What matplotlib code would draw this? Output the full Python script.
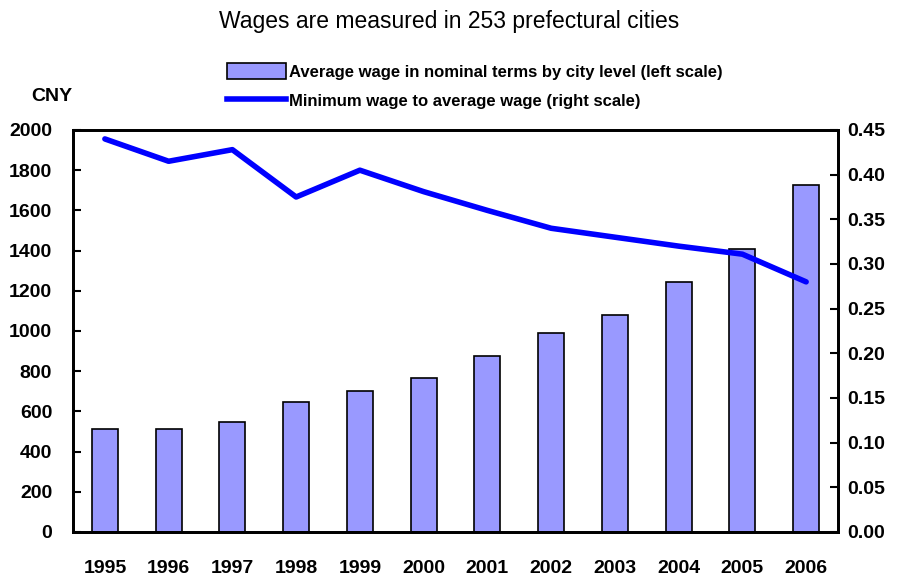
import numpy as np
import matplotlib
matplotlib.use("Agg")
import matplotlib.pyplot as plt
from matplotlib.lines import Line2D
from matplotlib.patches import Patch

years = ["1995", "1996", "1997", "1998", "1999", "2000",
         "2001", "2002", "2003", "2004", "2005", "2006"]
avg_wage = [512, 512, 547, 647, 703, 766, 876, 990, 1081, 1245, 1409, 1726]
min_to_avg = [0.440, 0.415, 0.428, 0.375, 0.405, 0.381,
              0.360, 0.340, 0.330, 0.320, 0.311, 0.280]

bar_color = "#9999ff"
line_color = "#0000ff"
plt.rcParams['font.family'] = ['Liberation Sans', 'DejaVu Sans']

fig = plt.figure(figsize=(8.98, 5.77), dpi=100)
ax = fig.add_axes([0.0813, 0.078, 0.8519, 0.6967])
x = np.arange(len(years))

ax.bar(x, avg_wage, width=0.41, color=bar_color, edgecolor="black", linewidth=1.2, zorder=2)
ax.set_xlim(-0.5, len(years) - 0.5)
ax.set_ylim(0, 2000)
ax.set_yticks(np.arange(0, 2001, 200))
ax.set_xticks(x)
ax.set_xticklabels(years)
ax.tick_params(axis='x', length=0, pad=20, labelsize=14)
ax.tick_params(axis='y', direction='in', length=6, width=1.5, labelsize=14, pad=15)
for lab in ax.get_xticklabels() + ax.get_yticklabels():
    lab.set_fontweight('bold')
for s in ax.spines.values():
    s.set_linewidth(2)

ax2 = ax.twinx()
ax2.plot(x, min_to_avg, color=line_color, linewidth=4, solid_capstyle='round', zorder=3)
ax2.set_ylim(0, 0.45)
ax2.set_yticks(np.arange(0, 0.451, 0.05))
ax2.set_yticklabels([f"{v:.2f}" for v in np.arange(0, 0.451, 0.05)])
ax2.tick_params(axis='y', direction='in', length=6, width=1.5, labelsize=14, pad=7)
for lab in ax2.get_yticklabels():
    lab.set_fontweight('bold')
for s in ax2.spines.values():
    s.set_linewidth(2)

fig.text(0.5, 0.962, "Wages are measured in 253 prefectural cities",
         ha='center', va='center', fontsize=16.5)
fig.text(0.058, 0.832, "CNY", ha='center', va='center', fontsize=14, fontweight='bold')

handles = [Patch(facecolor=bar_color, edgecolor="black", linewidth=1.2),
           Line2D([0], [0], color=line_color, linewidth=4)]
labels = ["Average wage in nominal terms by city level (left scale)",
          "Minimum wage to average wage (right scale)"]
fig.legend(handles, labels, loc='upper left', bbox_to_anchor=(0.253, 0.89),
           frameon=False, prop={'weight': 'bold', 'size': 12},
           handlelength=3.5, handleheight=1.1, handletextpad=0.2, labelspacing=0.75,
           borderpad=0, borderaxespad=0)

fig.savefig("out.png", dpi=100)
